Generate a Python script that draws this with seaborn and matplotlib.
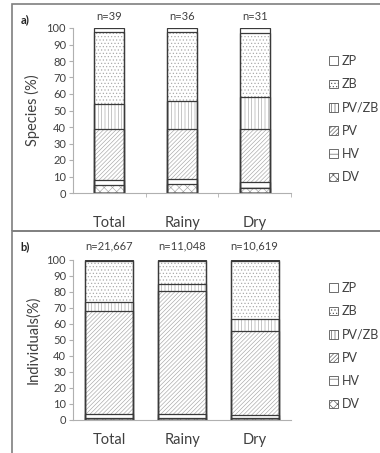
import pandas as pd
import seaborn as sns
import matplotlib.pyplot as plt
from matplotlib.patches import Patch, Rectangle

sns.set_style('white')
plt.rcParams['font.family'] = ['Lato', 'DejaVu Sans']
plt.rcParams['hatch.linewidth'] = 0.45

sites = ['Total', 'Rainy', 'Dry']
groups = ['DV', 'HV', 'PV', 'PV/ZB', 'ZB', 'ZP']

# percent per group (DV, HV, PV, PV/ZB, ZB, ZP)
species_total = [5.1, 2.6, 30.8, 15.4, 43.6, 2.5]
species_rainy = [5.6, 2.8, 30.6, 16.7, 41.7, 2.6]
species_dry = [3.2, 3.2, 32.3, 19.4, 38.7, 3.2]

indiv_total = [1.5, 2.5, 64.0, 6.0, 25.5, 0.5]
indiv_rainy = [1.5, 2.5, 76.5, 4.5, 14.5, 0.5]
indiv_dry = [1.0, 2.0, 52.5, 7.5, 36.5, 0.5]

n_species = [39, 36, 31]
n_individuals = [21667, 11048, 10619]

hatches = {'DV': 'xxxx', 'HV': '--', 'PV': '////////', 'PV/ZB': '|||||',
           'ZB': '.....', 'ZP': ''}
TEXT = '#404040'
EDGE = '#3a3a3a'
HATCH_GREY = '#a6a6a6'
AXIS_GREY = '#b0b0b0'


def draw_panel(ax, rows, counts, ylabel, width, n_offset, xpad):
    df = pd.DataFrame(rows, index=sites, columns=groups).reset_index(names='site')
    df = df.melt(id_vars='site', var_name='group', value_name='pct')
    df['cum'] = df.groupby('site')['pct'].cumsum()

    # overlapping cumulative bars, tallest first
    for g in reversed(groups):
        sub = df[df['group'] == g]
        sns.barplot(data=sub, x='site', y='cum', order=sites, width=width,
                    color='white', saturation=1, edgecolor=HATCH_GREY,
                    linewidth=0, hatch=hatches[g], errorbar=None, ax=ax)
    for g in reversed(groups):
        sub = df[df['group'] == g]
        sns.barplot(data=sub, x='site', y='cum', order=sites, width=width,
                    fill=False, color=EDGE, linewidth=0.9, errorbar=None, ax=ax)

    for i, n in enumerate(counts):
        ax.annotate(f'n={n:,}', xy=(i, 100), xytext=(0, n_offset),
                    textcoords='offset points', ha='center', va='bottom',
                    fontsize=8, color=TEXT)

    ax.set_xlim(-0.5, 2.5)
    ax.set_ylim(0, 100)
    ax.set_yticks(range(0, 101, 10))
    ax.set_xlabel('')
    ax.set_ylabel(ylabel, fontsize=10.5, color=TEXT)
    ax.yaxis.set_label_coords(-0.15, 0.5)
    sns.despine(ax=ax)
    ax.spines['left'].set_color(AXIS_GREY)
    ax.spines['bottom'].set_color(AXIS_GREY)
    ax.tick_params(axis='y', left=True, length=3, color=AXIS_GREY,
                   labelsize=8, labelcolor=TEXT, pad=2)
    ax.tick_params(axis='x', bottom=False, labelsize=10.5,
                   labelcolor=TEXT, pad=xpad)

    handles = [Patch(facecolor='white', edgecolor='#555555', linewidth=0.6,
                     hatch=hatches[g]) for g in reversed(groups)]
    return handles


fig = plt.figure(figsize=(3.8, 4.53), dpi=100)
ax_a = fig.add_axes([73 / 380, 1 - 193 / 453, 218 / 380, 165 / 453])
ax_b = fig.add_axes([73 / 380, 1 - 420 / 453, 218 / 380, 160 / 453])

handles = draw_panel(ax_a, [species_total, species_rainy, species_dry],
                     n_species, 'Species (%)', 0.41, 4, 13)
draw_panel(ax_b, [indiv_total, indiv_rainy, indiv_dry],
           n_individuals, 'Individuals(%)', 0.66, 6, 6)

# category boundary ticks on panel a
ax_a.set_xticks([0.5, 1.5, 2.5], minor=True)
ax_a.tick_params(axis='x', which='minor', bottom=True, length=3,
                 color=AXIS_GREY)

for y0 in [55 / 453, 282 / 453]:
    fig.legend(handles, list(reversed(groups)), loc='upper left',
               bbox_to_anchor=(329 / 380, 1 - y0), frameon=False,
               fontsize=9, labelcolor=TEXT, handlelength=0.7,
               handleheight=0.7, handletextpad=0.3, labelspacing=0.9,
               borderpad=0, borderaxespad=0)

fig.text(25 / 380, 1 - 20 / 453, 'a)', fontsize=8, fontweight='bold',
         color='#222222', ha='center', va='center')
fig.text(25 / 380, 1 - 247 / 453, 'b)', fontsize=8, fontweight='bold',
         color='#222222', ha='center', va='center')

for top, bottom in [(4, 231), (231, 460)]:
    fig.patches.append(Rectangle((12 / 380, 1 - bottom / 453), 1.0,
                                 (bottom - top) / 453,
                                 transform=fig.transFigure, fill=False,
                                 edgecolor='#7f7f7f', linewidth=1.2))

fig.savefig('out.png', dpi=100)
